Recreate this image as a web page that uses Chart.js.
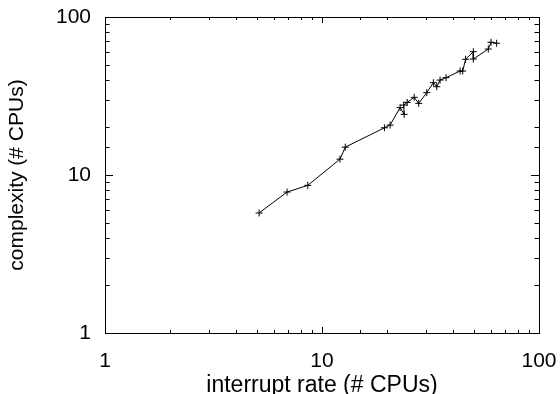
<!DOCTYPE html>
<html>
<head>
<meta charset="utf-8">
<script src="https://cdn.jsdelivr.net/npm/chart.js@4/dist/chart.umd.min.js"></script>
<style>
  html, body { margin: 0; padding: 0; background: #fff; }
  canvas { display: block; }
</style>
</head>
<body>
<canvas id="chart" width="560" height="394"></canvas>
<script>
// interrupt rate vs complexity, both in # CPUs (log-log)
const interruptRate = [5.13, 6.9, 8.6, 12.1, 12.8, 19.4, 20.6, 22.9, 23.9, 23.8, 24.7, 26.6, 27.9,
  30.4, 32.6, 33.8, 35.0, 37.3, 43.3, 44.5, 45.9, 49.8, 49.8, 58.4, 60.1, 63.8];
const complexity = [5.75, 7.8, 8.6, 12.6, 15.0, 19.9, 20.7, 26.7, 24.2, 27.7, 28.8, 31.0, 28.4,
  33.2, 38.4, 36.2, 39.9, 41.3, 45.5, 45.5, 54.0, 60.3, 54.2, 62.7, 69.2, 68.2];
const decadeLabels = [1, 10, 100];

const FONT = "'Liberation Sans', Arial, Helvetica, sans-serif";

const isDecade = v => decadeLabels.includes(v);

// gnuplot-like frame with inward ticks on all four sides
const frameTicks = {
  id: 'frameTicks',
  beforeDatasetsDraw(chart) {
    const { ctx, chartArea: a, scales } = chart;
    ctx.save();
    ctx.strokeStyle = '#000';
    ctx.lineWidth = 1;
    ctx.strokeRect(Math.round(a.left) + 0.5, Math.round(a.top) + 0.5,
      Math.round(a.right - a.left), Math.round(a.bottom - a.top));
    ctx.beginPath();
    scales.x.ticks.forEach(t => {
      const px = Math.round(scales.x.getPixelForValue(t.value)) + 0.5;
      const len = isDecade(t.value) ? 6 : 3;
      ctx.moveTo(px, a.bottom); ctx.lineTo(px, a.bottom - len);
      ctx.moveTo(px, a.top); ctx.lineTo(px, a.top + len);
    });
    scales.y.ticks.forEach(t => {
      const py = Math.round(scales.y.getPixelForValue(t.value)) + 0.5;
      const len = isDecade(t.value) ? 8 : 4.5;
      ctx.moveTo(a.left, py); ctx.lineTo(a.left + len, py);
      ctx.moveTo(a.right, py); ctx.lineTo(a.right - len, py);
    });
    ctx.stroke();
    ctx.restore();
  }
};

new Chart(document.getElementById('chart').getContext('2d'), {
  type: 'scatter',
  data: {
    datasets: [{
      data: interruptRate.map((x, i) => ({ x: x, y: complexity[i] })),
      showLine: true,
      borderColor: '#000',
      borderWidth: 1,
      pointStyle: 'cross',
      pointRadius: 3.5,
      pointBorderColor: '#000',
      pointBorderWidth: 1,
      tension: 0
    }]
  },
  options: {
    responsive: false,
    animation: false,
    layout: { padding: { top: 17, right: 21, left: 0, bottom: 0 } },
    plugins: { legend: { display: false }, tooltip: { enabled: false } },
    scales: {
      x: {
        type: 'logarithmic',
        min: 1,
        max: 100,
        grid: { display: false },
        border: { display: false },
        afterFit: s => { s.height = 61; s.paddingLeft = 0; s.paddingRight = 0; },
        ticks: {
          autoSkip: false,
          maxRotation: 0,
          padding: 8,
          color: '#000',
          font: { family: FONT, size: 21 },
          callback: v => isDecade(v) ? String(v) : ''
        },
        title: {
          display: true,
          text: 'interrupt rate (# CPUs)',
          color: '#000',
          font: { family: FONT, size: 23, lineHeight: 0.74 },
          padding: { top: 0, bottom: 0 }
        }
      },
      y: {
        type: 'logarithmic',
        min: 1,
        max: 100,
        grid: { display: false },
        border: { display: false },
        afterFit: s => { s.width = 105; s.paddingTop = 0; s.paddingBottom = 0; },
        ticks: {
          autoSkip: false,
          padding: 6,
          color: '#000',
          font: { family: FONT, size: 21 },
          callback: v => isDecade(v) ? String(v) : ''
        },
        title: {
          display: true,
          text: 'complexity (# CPUs)',
          color: '#000',
          font: { family: FONT, size: 21 },
          padding: { top: 5, bottom: 0 }
        }
      }
    }
  },
  plugins: [frameTicks]
});
</script>
</body>
</html>
